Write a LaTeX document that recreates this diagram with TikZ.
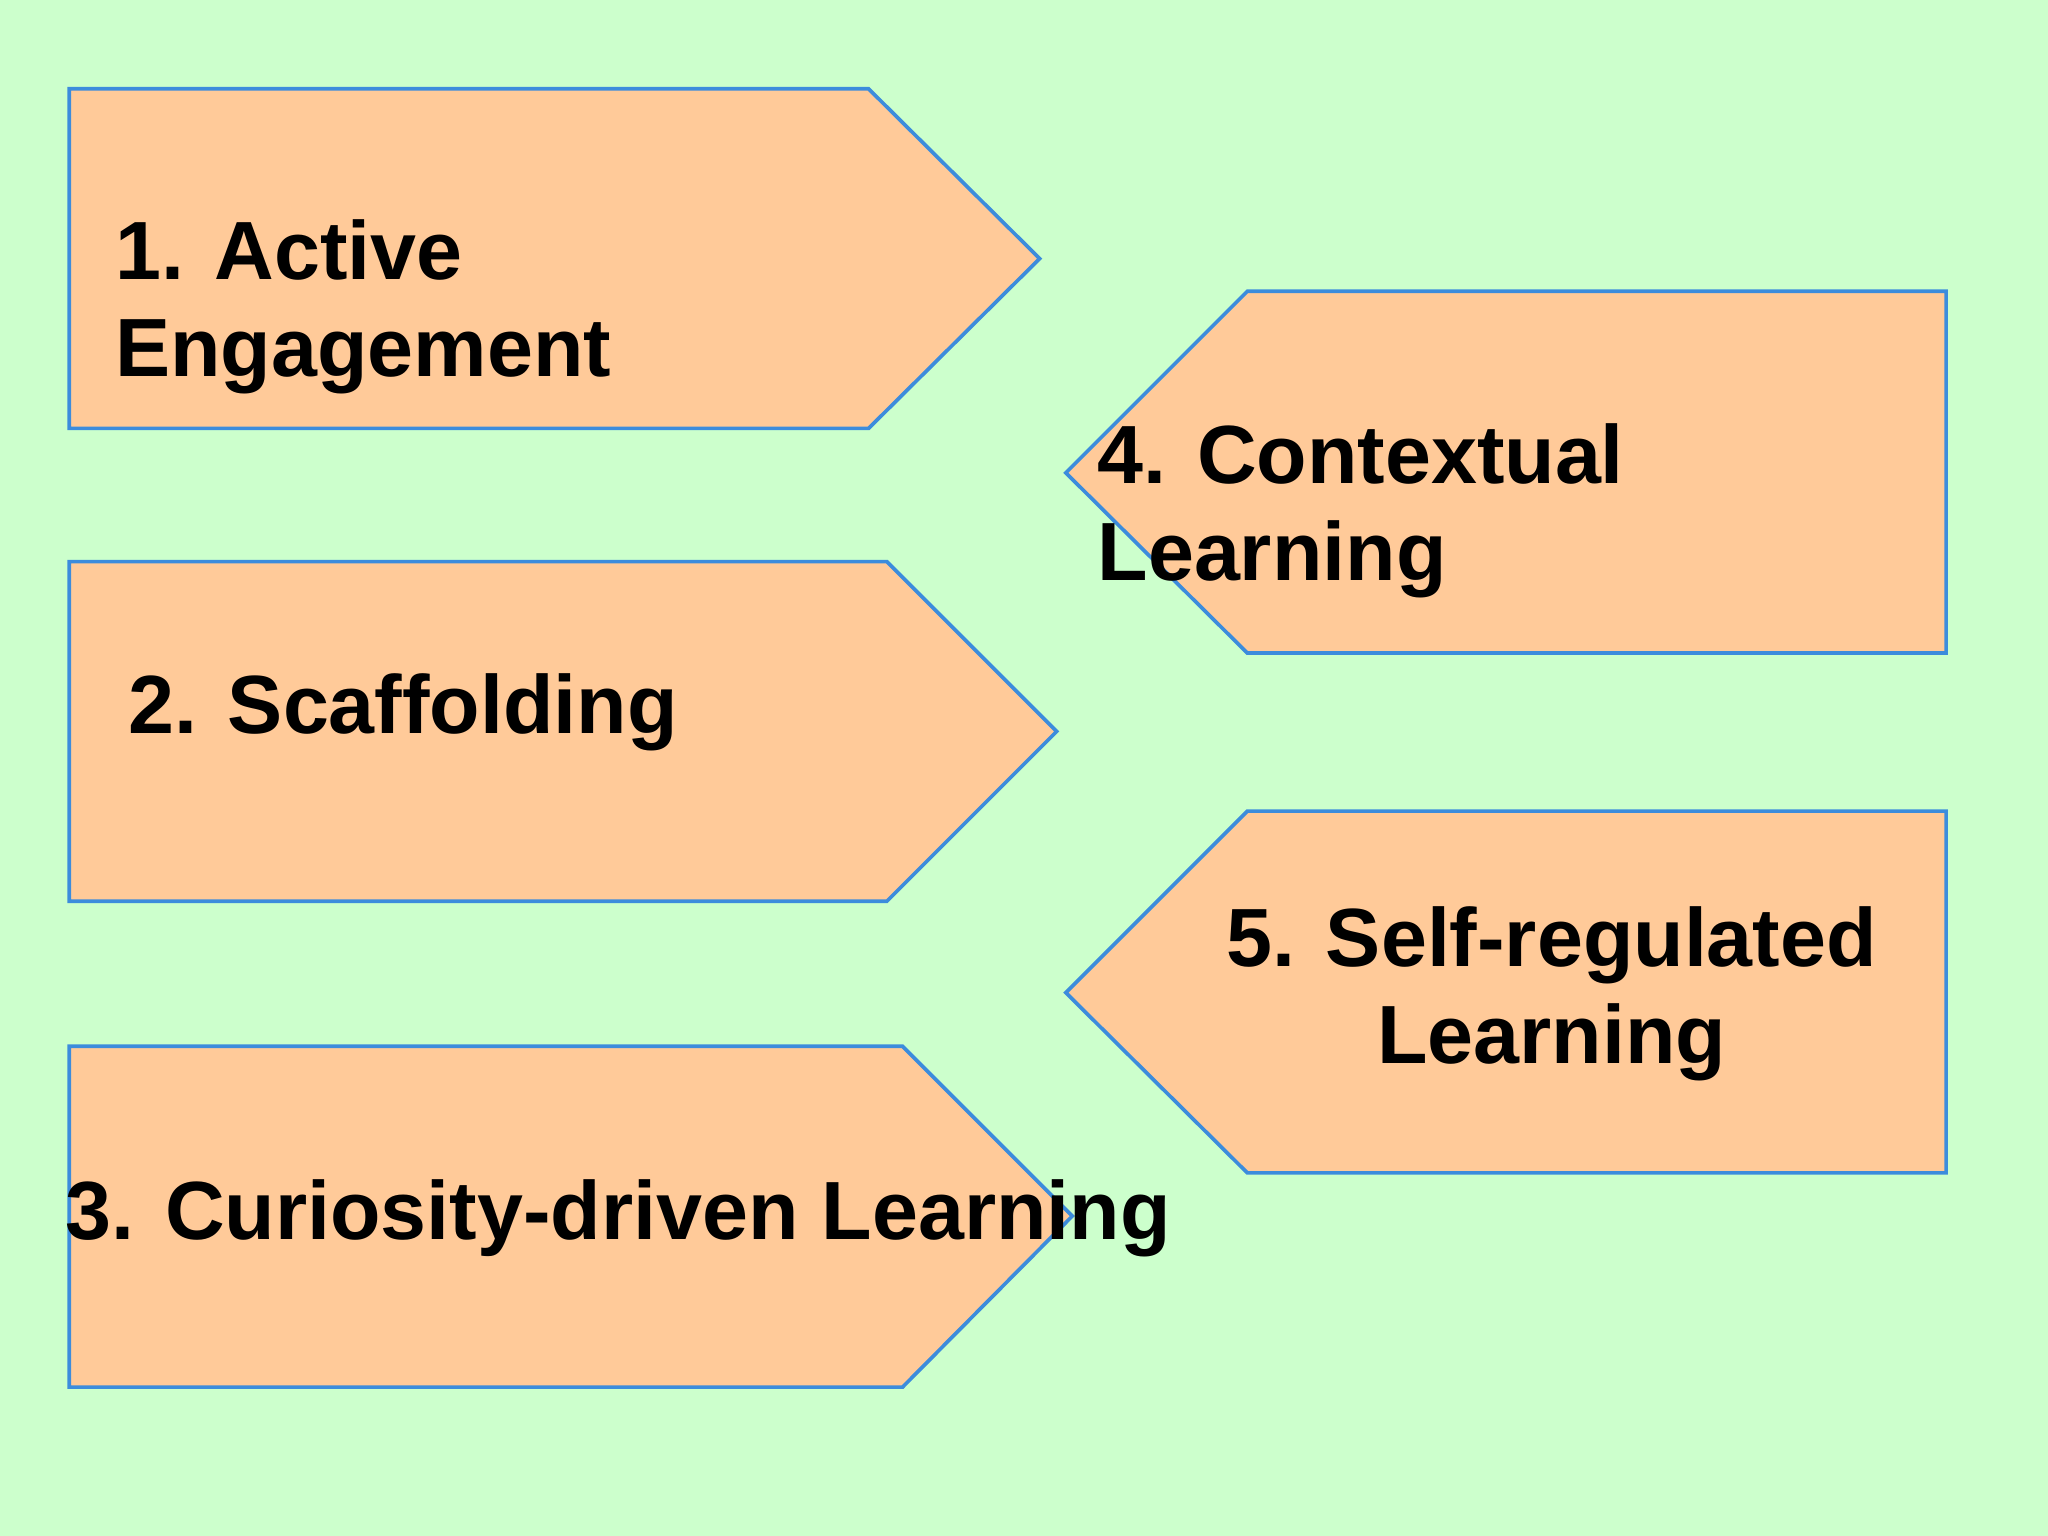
\documentclass[tikz,border=0pt]{standalone}
\usepackage{fontspec}
\setmainfont{Liberation Sans}
\definecolor{bgc}{RGB}{204,255,204}
\definecolor{bordc}{RGB}{60,140,220}
\definecolor{fillc}{RGB}{255,202,153}
\begin{document}
\begin{tikzpicture}[x=0.02cm,y=-0.02cm,
  shp/.style={draw=bordc,fill=fillc,line width=1.6pt,line join=miter},
  lbl/.style={font=\bfseries\fontsize{36}{42.5}\selectfont,inner sep=0pt}]
\fill[bgc] (0,0) rectangle (1568,1176);
\useasboundingbox (0,0) rectangle (1568,1176);
\draw[shp] (53,68)--(665,68)--(796,198)--(665,328)--(53,328)--cycle;
\draw[shp] (53,430)--(679,430)--(809,560)--(679,690)--(53,690)--cycle;
\draw[shp] (53,801)--(691,801)--(821,931)--(691,1062)--(53,1062)--cycle;
\draw[shp] (955,223)--(1490,223)--(1490,500)--(955,500)--(816,362)--cycle;
\draw[shp] (955,621)--(1490,621)--(1490,898)--(955,898)--(816,760)--cycle;
\node[lbl,anchor=west,align=left] (t1) at (88,235) {1. Active\\Engagement};
\node[lbl,anchor=west] (t2) at (98,545) {2. Scaffolding};
\node[lbl,anchor=west] (t3) at (50,933) {3. Curiosity-driven Learning};
\node[lbl,anchor=west,align=left] (t4) at (840,391) {4. Contextual\\Learning};
\node[lbl,align=center] (t5) at (1188,761) {5. Self-regulated\\Learning};
\end{tikzpicture}
\end{document}
